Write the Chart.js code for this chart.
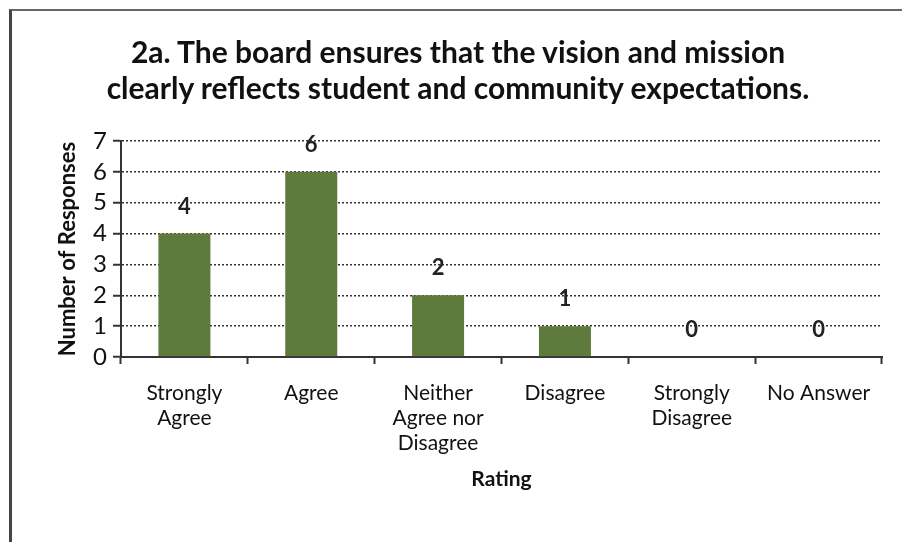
<!DOCTYPE html>
<html>
<head>
<meta charset="utf-8">
<script src="https://cdn.jsdelivr.net/npm/chart.js@4/dist/chart.umd.min.js"></script>
<style>
  body { margin: 0; background: #fff; }
  #wrap { position: relative; width: 902px; height: 542px; overflow: hidden; }
  #frame { position: absolute; left: 9px; top: 9px; width: 900px; height: 531px;
           border-left: 3px solid #444; border-top: 2px solid #666; border-bottom: 1px solid #ddd; }
  #title { position: absolute; left: 14px; width: 888px; top: 33px; text-align: center;
           font: bold 30px Lato, 'Open Sans', sans-serif; line-height: 36px; color: #111; }
  canvas { position: absolute; left: 0; top: 0; }
</style>
</head>
<body>
<div id="wrap">
  <div id="frame"></div>
  <canvas id="ratingChart" width="902" height="542"></canvas>
  <div id="title"></div>
</div>
<script>
// chart values
const categories = [
    ['Strongly', 'Agree'],
    'Agree',
    ['Neither', 'Agree nor', 'Disagree'],
    'Disagree',
    ['Strongly', 'Disagree'],
    'No Answer'
];
const responses = [4, 6, 2, 1, 0, 0];
const yTicks = [0, 1, 2, 3, 4, 5, 6, 7];
const titleLines = [
    '2a. The board ensures that the vision and mission',
    'clearly reflects student and community expectations.'
];

const FONT = "Lato, 'Open Sans', sans-serif";

// title as page text, two lines
const titleEl = document.getElementById('title');
titleLines.forEach(line => {
    const d = document.createElement('div');
    d.textContent = line;
    titleEl.appendChild(d);
});

// value labels above each bar
const barLabels = {
    id: 'barLabels',
    afterDatasetsDraw(chart) {
        const ctx = chart.ctx;
        const meta = chart.getDatasetMeta(0);
        ctx.save();
        ctx.font = 'bold 22px ' + FONT;
        ctx.fillStyle = '#222';
        ctx.textAlign = 'center';
        ctx.textBaseline = 'middle';
        meta.data.forEach((bar, i) => {
            ctx.fillText(String(responses[i]), bar.x, bar.y - 27);
        });
        ctx.restore();
    }
};

const ctx = document.getElementById('ratingChart').getContext('2d');
new Chart(ctx, {
    type: 'bar',
    data: {
        labels: categories,
        datasets: [{
            data: responses,
            backgroundColor: '#5e7a3c',
            borderWidth: 0,
            categoryPercentage: 0.41,
            barPercentage: 1
        }]
    },
    options: {
        responsive: false,
        animation: false,
        layout: { padding: { left: 0, right: 20, top: 141, bottom: 0 } },
        plugins: {
            legend: { display: false },
            tooltip: { enabled: false },
            title: { display: false }
        },
        scales: {
            x: {
                afterFit: scale => { scale.height = 185; },
                grid: {
                    display: true,
                    drawOnChartArea: false,
                    drawTicks: true,
                    tickLength: 7,
                    tickColor: '#333',
                    tickWidth: 2,
                    offset: true
                },
                border: { display: true, color: '#333', width: 2 },
                ticks: {
                    color: '#111',
                    font: { family: FONT, size: 21, lineHeight: 1.19 },
                    padding: 17,
                    maxRotation: 0,
                    autoSkip: false
                },
                title: {
                    display: true,
                    text: 'Rating',
                    color: '#111',
                    font: { family: FONT, size: 21, weight: 'bold', lineHeight: 1.2 },
                    padding: { top: 0, bottom: 50 }
                }
            },
            y: {
                min: 0,
                max: 7,
                afterFit: scale => { scale.width = 121; },
                afterBuildTicks: scale => { scale.ticks = yTicks.map(v => ({ value: v })); },
                grid: {
                    color: '#333',
                    lineWidth: 1.5,
                    drawTicks: true,
                    tickLength: 8,
                    tickColor: '#333',
                    tickWidth: 2,
                    tickBorderDash: []
                },
                border: { display: true, color: '#333', width: 2, dash: [2, 2] },
                ticks: {
                    color: '#111',
                    font: { family: FONT, size: 24 },
                    padding: 6,
                    autoSkip: false
                },
                title: {
                    display: true,
                    text: 'Number of Responses',
                    color: '#111',
                    font: { family: FONT, size: 22, weight: 'bold', lineHeight: 1.2 },
                    padding: { top: 55, bottom: 0 }
                }
            }
        }
    },
    plugins: [barLabels]
});
</script>
</body>
</html>
